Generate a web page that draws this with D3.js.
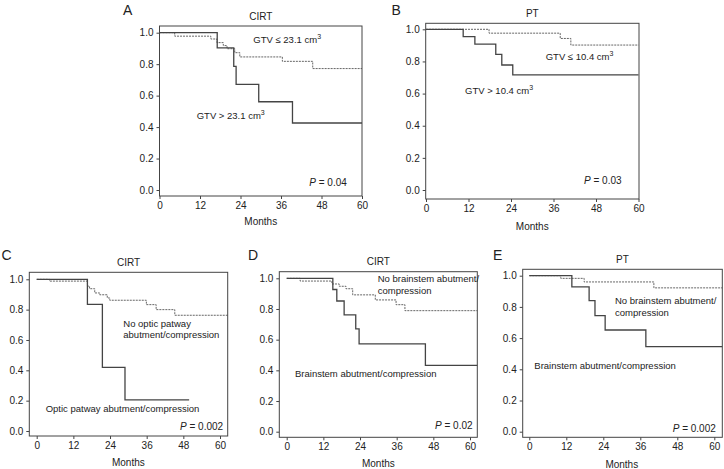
<!DOCTYPE html>
<html>
<head>
<meta charset="utf-8">
<script src="https://cdn.jsdelivr.net/npm/d3@7"></script>
<style>
body { margin: 0; background: #fff; }
svg { font-family: "Liberation Sans", Arial, sans-serif; }
</style>
</head>
<body>
<div id="chart"></div>
<script>
// tick values shared by every panel
var xTicks = [0, 12, 24, 36, 48, 60];
var yTicks = [0, 0.2, 0.4, 0.6, 0.8, 1.0];

var panelLetters = ["A", "B", "C", "D", "E"];
var panelTitles = ["CIRT", "PT", "CIRT", "CIRT", "PT"];

// Kaplan-Meier steps: [month, survival]
var aSolid = [[0, 1], [17.1, 0.903], [22.0, 0.786], [22.7, 0.672], [29.4, 0.561], [39.4, 0.426], [60, 0.426]];
var aDashed = [[0, 1], [4.5, 0.978], [15.2, 0.96], [17.0, 0.937], [18.9, 0.918], [20.0, 0.898], [22.3, 0.873], [23.8, 0.846], [36.4, 0.818], [45.4, 0.772], [60, 0.772]];
var bSolid = [[0, 1], [10.5, 0.955], [13.8, 0.908], [19.7, 0.844], [21.4, 0.778], [24.5, 0.716], [60, 0.716]];
var bDashed = [[0, 1], [17.8, 0.976], [37.9, 0.943], [40.9, 0.902], [60, 0.902]];
var cSolid = [[0, 1], [16.6, 0.835], [21.5, 0.42], [28.9, 0.205], [49.9, 0.205]];
var cDashed = [[0, 1], [4.2, 0.988], [16.6, 0.955], [17.3, 0.938], [19.0, 0.91], [20.6, 0.898], [23.1, 0.877], [23.9, 0.862], [35.9, 0.833], [39.1, 0.8], [45.2, 0.763], [62.5, 0.763]];
var dSolid = [[0, 1], [15.1, 0.927], [16.4, 0.852], [18.8, 0.761], [22.6, 0.67], [23.7, 0.572], [45.4, 0.433], [62.4, 0.433]];
var dDashed = [[0, 1], [4.4, 0.982], [14.8, 0.963], [17.2, 0.948], [19.4, 0.932], [21.6, 0.892], [29.0, 0.859], [35.8, 0.828], [38.7, 0.789], [62.4, 0.789]];
var eSolid = [[0, 1], [13.8, 0.929], [19.4, 0.84], [21.3, 0.744], [24.6, 0.652], [37.8, 0.545], [62.6, 0.545]];
var eDashed = [[0, 1], [10.2, 0.983], [17.8, 0.96], [40.4, 0.922], [62.6, 0.922]];

var solids = [aSolid, bSolid, cSolid, dSolid, eSolid];
var dashes = [aDashed, bDashed, cDashed, dDashed, eDashed];

var pValues = ["0.04", "0.03", "0.002", "0.02", "0.002"];

// panel boxes (frame) and where 0..60 / 0..1 land inside them
var layout = [
    {fx0: 159.5, fx1: 362, fy0: 26, fy1: 196, xr: [159.5, 362], yr: [190, 32.7], monthsY: 221},
    {fx0: 425.7, fx1: 639, fy0: 23.3, fy1: 199, xr: [426, 638.5], yr: [190, 29.3], monthsY: 226},
    {fx0: 29.3, fx1: 227.7, fy0: 272.3, fy1: 436, xr: [36.7, 220], yr: [431, 279.3], monthsY: 462},
    {fx0: 279.3, fx1: 477.3, fy0: 271.7, fy1: 437.3, xr: [286.7, 470], yr: [431.7, 278.3], monthsY: 463},
    {fx0: 522.7, fx1: 722.3, fy0: 269.3, fy1: 437.3, xr: [529.3, 714.3], yr: [431.7, 275.7], monthsY: 464}
];

// annotations: lines of text, start x, centre y of first line, superscript?
var notes = [
    [{lines: ["GTV \u2264 23.1 cm"], x: 253.3, y: 39.5, sup: true},
     {lines: ["GTV > 23.1 cm"], x: 196.7, y: 116, sup: true}],
    [{lines: ["GTV \u2264 10.4 cm"], x: 545.7, y: 56.7, sup: true},
     {lines: ["GTV > 10.4 cm"], x: 465, y: 90.7, sup: true}],
    [{lines: ["No optic patway", "abutment/compression"], x: 123.3, y: 323.3},
     {lines: ["Optic patway abutment/compression"], x: 45.7, y: 409}],
    [{lines: ["No brainstem abutment/", "compression"], x: 377.7, y: 279},
     {lines: ["Brainstem abutment/compression"], x: 295, y: 373.3}],
    [{lines: ["No brainstem abutment/", "compression"], x: 615, y: 300.7},
     {lines: ["Brainstem abutment/compression"], x: 534.3, y: 366}]
];
var pPos = [[309.3, 182.7], [584, 180], [180, 426.7], [435, 425], [672.7, 428.3]];
var letterPos = [[123, 10], [391.5, 10], [1.5, 255], [248, 255], [493, 255]];

var width = 724, height = 469;
var textColor = "#222";

var svg = d3.select("#chart").append("svg")
    .attr("width", width)
    .attr("height", height);

for (let i = 0; i < layout.length; i++) {
    drawPanel(i);
}

function drawPanel(i) {
    var L = layout[i];
    var g = svg.append("g");

    var x = d3.scaleLinear().domain([0, 60]).range(L.xr);
    var y = d3.scaleLinear().domain([0, 1]).range(L.yr);

    var x_axis = d3.axisBottom(x).tickValues(xTicks).tickSize(3).tickPadding(3).tickSizeOuter(0);
    var y_axis = d3.axisLeft(y).tickValues(yTicks).tickSize(3).tickPadding(3).tickSizeOuter(0)
        .tickFormat(d3.format(".1f"));

    var xa = g.append("g").attr("transform", "translate(0," + L.fy1 + ")").call(x_axis);
    var ya = g.append("g").attr("transform", "translate(" + L.fx0 + ",0)").call(y_axis);
    [xa, ya].forEach(function(a) {
        a.select(".domain").remove();
        a.selectAll("line").attr("stroke", "#444");
        a.selectAll("text").attr("fill", textColor)
            .style("font-size", "10px")
            .style("font-family", "'Liberation Sans', Arial, sans-serif");
    });

    var line = d3.line()
        .x(function(d) { return x(d[0]); })
        .y(function(d) { return y(d[1]); })
        .curve(d3.curveStepAfter);

    g.append("path").datum(dashes[i])
        .attr("d", line)
        .attr("fill", "none")
        .attr("stroke", "#666")
        .attr("stroke-width", 1)
        .attr("stroke-dasharray", "2,1");

    g.append("path").datum(solids[i])
        .attr("d", line)
        .attr("fill", "none")
        .attr("stroke", "#444")
        .attr("stroke-width", 1.3);

    // frame
    g.append("rect")
        .attr("x", L.fx0).attr("y", L.fy0)
        .attr("width", L.fx1 - L.fx0).attr("height", L.fy1 - L.fy0)
        .attr("fill", "none").attr("stroke", "#444").attr("stroke-width", 1);

    // title, letter, x label
    g.append("text").attr("x", (L.fx0 + L.fx1) / 2).attr("y", L.fy0 - 10)
        .attr("text-anchor", "middle").attr("dy", "0.35em")
        .style("font-size", "10px").attr("fill", textColor).text(panelTitles[i]);
    g.append("text").attr("x", letterPos[i][0]).attr("y", letterPos[i][1])
        .attr("dy", "0.35em")
        .style("font-size", "14px").attr("fill", textColor).text(panelLetters[i]);
    g.append("text").attr("x", (L.xr[0] + L.xr[1]) / 2).attr("y", L.monthsY)
        .attr("text-anchor", "middle").attr("dy", "0.35em")
        .style("font-size", "10px").attr("fill", textColor).text("Months");

    notes[i].forEach(function(n) {
        n.lines.forEach(function(s, k) {
            var t = g.append("text").attr("x", n.x).attr("y", n.y + k * 11.5)
                .attr("dy", "0.35em").style("font-size", "9.5px").attr("fill", textColor);
            t.append("tspan").text(s);
            if (n.sup) {
                t.append("tspan").attr("dy", "-4").style("font-size", "7px").text("3");
            }
        });
    });

    var p = g.append("text").attr("x", pPos[i][0]).attr("y", pPos[i][1])
        .attr("dy", "0.35em").style("font-size", "10px").attr("fill", textColor);
    p.append("tspan").style("font-style", "italic").text("P");
    p.append("tspan").text(" = " + pValues[i]);
}
</script>
</body>
</html>
